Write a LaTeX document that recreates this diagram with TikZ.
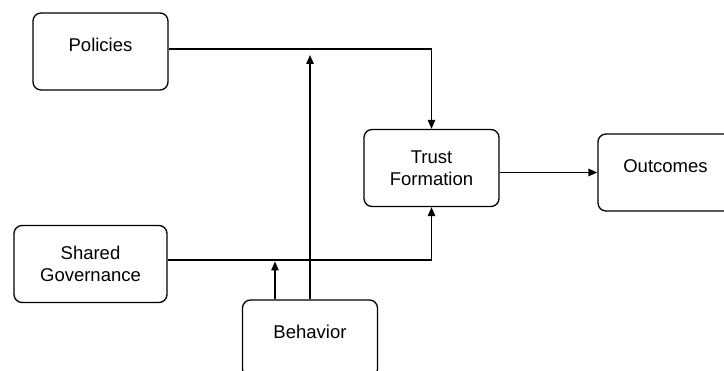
\documentclass[tikz,border=0pt]{standalone}
\usepackage{fontspec}
\setmainfont{Liberation Sans}
\usetikzlibrary{arrows.meta}

\begin{document}
\begin{tikzpicture}[x=1pt, y=-1pt,
    >={Triangle[length=9pt, width=7.5pt]},
    box/.style={draw, line width=1.3pt, rounded corners=8pt, minimum width=135pt,
                minimum height=77pt, align=center, font=\fontsize{18.5}{22}\selectfont},
    onebox/.style={box, text height=38.5pt, text depth=38.5pt, inner ysep=0pt},
    link/.style={line width=1.4pt}]
    \useasboundingbox (0,0) rectangle (724,371);

    \node[onebox] (policies) at (100.5,51.5) {Policies};
    \node[box] (trust) at (431.5,168) {Trust\\Formation};
    \node[onebox] (outcomes) at (665.5,172.5) {Outcomes};
    \node[box, minimum width=153pt] (shared) at (90.5,264) {Shared\\Governance};
    \node[onebox] (behavior) at (310,338.5) {Behavior};

    \draw[->, link] ([yshift=2.5pt]policies.east) -| (trust.north);
    \draw[->, link] ([yshift=4pt]shared.east) -| (trust.south);
    \draw[->, link] (trust.east |- outcomes.west) -- (outcomes.west);
    \draw[->, link, shorten >=3.5pt] (behavior.north) -- (behavior.north |- policies.east);
    \draw[->, link, shorten >=1.5pt] ([xshift=-35pt]behavior.north) -- ([xshift=-35pt,yshift=4pt]behavior.north |- shared.east);
\end{tikzpicture}
\end{document}
